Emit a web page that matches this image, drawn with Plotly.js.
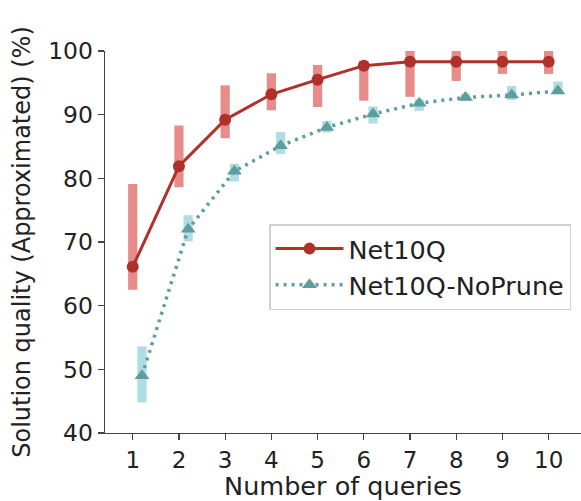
<!DOCTYPE html>
<html>
<head>
<meta charset="utf-8">
<script src="https://cdn.plot.ly/plotly-3.0.1.min.js"></script>
<style>
html, body { margin: 0; padding: 0; background: #fff; }
#chart { width: 581px; height: 501px; }
</style>
</head>
<body>
<div id="chart"></div>
<script>
const queries = [1, 2, 3, 4, 5, 6, 7, 8, 9, 10];
const xTickLabels = ["1", "2", "3", "4", "5", "6", "7", "8", "9", "10"];

const net10q = [66.1, 81.9, 89.2, 93.2, 95.5, 97.7, 98.3, 98.3, 98.3, 98.3];
const net10qLow = [62.5, 78.6, 86.3, 90.7, 91.2, 92.2, 92.8, 95.3, 96.4, 96.4];
const net10qHigh = [79.1, 88.3, 94.6, 96.5, 97.8, 98.4, 100, 100, 100, 100];

const noPrune = [49.0, 72.0, 81.1, 85.1, 88.0, 90.1, 91.8, 92.7, 93.1, 93.7];
const noPruneLow = [44.8, 70.1, 79.5, 83.8, 87.2, 88.6, 90.6, 92.2, 92.3, 93.2];
const noPruneHigh = [53.6, 74.2, 82.3, 87.3, 89.0, 91.3, 92.4, 93.3, 94.5, 95.2];

const noPruneShift = 0.2;
const noPruneX = queries.map(q => q + noPruneShift);

const font = "DejaVu Sans, sans-serif";

const traces = [
  {
    type: "bar",
    x: queries,
    base: net10qLow,
    y: net10qHigh.map((h, i) => h - net10qLow[i]),
    width: 0.2,
    marker: { color: "rgba(224, 100, 100, 0.75)", line: { width: 0 } },
    showlegend: false,
    hoverinfo: "skip"
  },
  {
    type: "bar",
    x: noPruneX,
    base: noPruneLow,
    y: noPruneHigh.map((h, i) => h - noPruneLow[i]),
    width: 0.2,
    marker: { color: "rgba(150, 210, 218, 0.75)", line: { width: 0 } },
    showlegend: false,
    hoverinfo: "skip"
  },
  {
    type: "scatter",
    mode: "lines+markers",
    name: "Net10Q",
    x: queries,
    y: net10q,
    line: { color: "#b0302a", width: 3 },
    marker: { symbol: "circle", size: 12, color: "#b0302a" }
  },
  {
    type: "scatter",
    mode: "lines+markers",
    name: "Net10Q-NoPrune",
    x: noPruneX,
    y: noPrune,
    line: { color: "#5f9ea0", width: 3.5, dash: "3px,5px" },
    marker: { symbol: "triangle-up", size: 13, color: "#5f9ea0" }
  }
];

const layout = {
  width: 581,
  height: 501,
  margin: { l: 105, r: 0, t: 51, b: 68 },
  paper_bgcolor: "#ffffff",
  plot_bgcolor: "#ffffff",
  font: { family: font, size: 24, color: "#222" },
  barmode: "overlay",
  showlegend: true,
  xaxis: {
    range: [0.4, 10.7],
    tickmode: "array",
    tickvals: queries,
    ticktext: xTickLabels,
    showgrid: false,
    zeroline: false,
    showline: true,
    linecolor: "#444",
    linewidth: 1.3,
    ticks: "outside",
    ticklen: 6,
    tickwidth: 1.3,
    tickcolor: "#444",
    tickfont: { family: font, size: 23, color: "#222" },
    title: { text: "Number of queries", font: { family: font, size: 25.5, color: "#222" }, standoff: 2 }
  },
  yaxis: {
    range: [40, 100],
    tickvals: [40, 50, 60, 70, 80, 90, 100],
    showgrid: false,
    zeroline: false,
    showline: true,
    linecolor: "#444",
    linewidth: 1.3,
    ticks: "outside",
    ticklen: 6,
    tickwidth: 1.3,
    tickcolor: "#444",
    tickfont: { family: font, size: 23.5, color: "#222" },
    title: { text: "Solution quality (Approximated) (%)", font: { family: font, size: 24, color: "#222" }, standoff: 10 }
  },
  legend: {
    x: 0.979,
    y: 0.547,
    xanchor: "right",
    yanchor: "top",
    bgcolor: "rgba(255,255,255,0.9)",
    bordercolor: "#d0d0d0",
    borderwidth: 1.5,
    font: { family: font, size: 25.5, color: "#222" },
    itemwidth: 68,
    tracegroupgap: 0
  }
};

Plotly.newPlot("chart", traces, layout, { displayModeBar: false, staticPlot: true });
</script>
</body>
</html>
